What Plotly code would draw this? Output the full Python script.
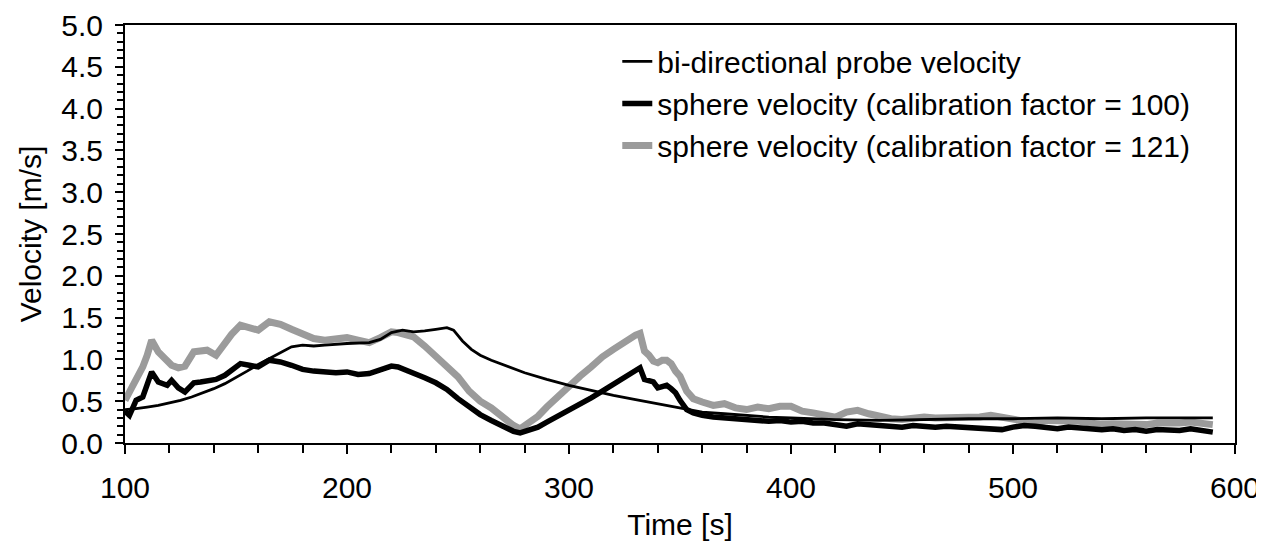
import plotly.graph_objects as go

# Time [s] and velocity [m/s]
probe_t = [100, 105, 110, 115, 120, 125, 130, 135, 140, 145, 150, 155, 160, 165, 170, 175, 180, 185,
           190, 200, 210, 215, 220, 225, 230, 235, 240, 245, 248, 252, 256, 260, 265, 270, 275, 280,
           290, 300, 310, 320, 330, 340, 350, 360, 370, 380, 390, 400, 420, 440, 460, 480, 500, 520,
           540, 560, 580, 590]
probe_v = [0.40, 0.41, 0.43, 0.45, 0.48, 0.51, 0.55, 0.60, 0.65, 0.71, 0.78, 0.86, 0.94, 1.01, 1.09,
           1.15, 1.17, 1.16, 1.17, 1.19, 1.20, 1.24, 1.32, 1.35, 1.33, 1.34, 1.36, 1.38, 1.35, 1.22,
           1.12, 1.05, 0.99, 0.94, 0.89, 0.84, 0.76, 0.69, 0.63, 0.57, 0.52, 0.47, 0.42, 0.37, 0.35,
           0.33, 0.31, 0.30, 0.28, 0.27, 0.28, 0.29, 0.29, 0.30, 0.29, 0.30, 0.30, 0.30]

sphere_t = [100, 102, 105, 108, 110, 112, 115, 119, 121, 124, 127, 131, 134, 137, 141, 145, 148, 152,
            156, 160, 165, 170, 175, 180, 185, 190, 195, 200, 205, 210, 215, 220, 223, 226, 230, 235,
            240, 245, 250, 255, 260, 265, 270, 275, 278, 282, 286, 290, 295, 300, 305, 310, 315, 320,
            325, 330, 332, 334, 336, 338, 340, 342, 344, 346, 348, 350, 353, 356, 360, 365, 370, 375,
            380, 385, 390, 395, 400, 405, 410, 415, 420, 425, 430, 435, 440, 445, 450, 455, 460, 465,
            470, 475, 480, 485, 490, 495, 500, 505, 510, 515, 520, 525, 530, 535, 540, 545, 550, 555,
            560, 565, 570, 575, 580, 585, 590]
sphere100_v = [0.38, 0.33, 0.51, 0.55, 0.70, 0.85, 0.73, 0.69, 0.75, 0.66, 0.61, 0.72, 0.73, 0.75,
               0.76, 0.81, 0.87, 0.95, 0.93, 0.91, 0.99, 0.97, 0.93, 0.88, 0.86, 0.85, 0.84, 0.85,
               0.82, 0.83, 0.87, 0.92, 0.91, 0.88, 0.84, 0.78, 0.72, 0.64, 0.53, 0.43, 0.34, 0.27,
               0.20, 0.14, 0.12, 0.15, 0.19, 0.25, 0.32, 0.39, 0.46, 0.54, 0.62, 0.70, 0.78, 0.86,
               0.90, 0.76, 0.74, 0.73, 0.66, 0.68, 0.69, 0.65, 0.60, 0.51, 0.40, 0.36, 0.33, 0.31,
               0.30, 0.28, 0.27, 0.27, 0.26, 0.27, 0.25, 0.26, 0.24, 0.24, 0.22, 0.20, 0.23, 0.22,
               0.21, 0.20, 0.19, 0.21, 0.20, 0.19, 0.20, 0.19, 0.19, 0.18, 0.16, 0.16, 0.19, 0.21,
               0.20, 0.18, 0.17, 0.19, 0.18, 0.16, 0.16, 0.17, 0.15, 0.16, 0.14, 0.16, 0.16, 0.15,
               0.17, 0.15, 0.13]
sphere121_v = [0.51, 0.60, 0.75, 0.91, 1.05, 1.23, 1.09, 0.99, 0.93, 0.90, 0.92, 1.09, 1.10, 1.11,
               1.05, 1.20, 1.30, 1.41, 1.37, 1.35, 1.45, 1.42, 1.36, 1.30, 1.25, 1.23, 1.24, 1.26,
               1.23, 1.20, 1.26, 1.33, 1.32, 1.30, 1.27, 1.16, 1.03, 0.91, 0.79, 0.62, 0.50, 0.42,
               0.31, 0.21, 0.17, 0.24, 0.32, 0.43, 0.56, 0.69, 0.80, 0.91, 1.03, 1.12, 1.21, 1.29,
               1.31, 1.10, 1.05, 0.98, 0.96, 0.99, 0.99, 0.95, 0.86, 0.80, 0.62, 0.53, 0.49, 0.45,
               0.47, 0.42, 0.40, 0.43, 0.41, 0.44, 0.44, 0.38, 0.36, 0.33, 0.31, 0.37, 0.39, 0.35,
               0.31, 0.29, 0.28, 0.30, 0.31, 0.30, 0.30, 0.29, 0.30, 0.31, 0.33, 0.31, 0.27, 0.25,
               0.24, 0.27, 0.27, 0.26, 0.26, 0.24, 0.22, 0.23, 0.22, 0.21, 0.22, 0.24, 0.23, 0.24,
               0.25, 0.24, 0.22]

names = ["bi-directional probe velocity",
         "sphere velocity (calibration factor = 100)",
         "sphere velocity (calibration factor = 121)"]

FONT = "Liberation Sans, Arial, Helvetica, sans-serif"
FS = 30

fig = go.Figure()
fig.add_trace(go.Scatter(x=sphere_t, y=sphere121_v, mode="lines", name=names[2],
                         line=dict(color="rgb(155,155,155)", width=7), legendrank=3,
                         legendgroup="c"))
fig.add_trace(go.Scatter(x=sphere_t, y=sphere100_v, mode="lines", name=names[1],
                         line=dict(color="black", width=5.5), legendrank=2, legendgroup="b"))
fig.add_trace(go.Scatter(x=probe_t, y=probe_v, mode="lines", name=names[0],
                         line=dict(color="black", width=2.8), legendrank=1, legendgroup="a"))

# the page body adds an 8px offset, so the figure is 8px smaller and margins shifted
fig.update_layout(
    width=1256, height=535,
    margin=dict(l=117, r=29, t=17, b=100, autoexpand=False),
    paper_bgcolor="white", plot_bgcolor="white",
    font=dict(family=FONT, size=FS, color="black"),
    showlegend=True,
    legend=dict(x=0.4435, y=0.975, xanchor="left", yanchor="top",
                bgcolor="rgba(0,0,0,0)", borderwidth=0,
                font=dict(size=FS), tracegroupgap=0, itemwidth=30),
)
fig.update_xaxes(range=[100, 600], dtick=100, tick0=100, automargin=False,
                 showline=True, linecolor="black", linewidth=2, mirror=True,
                 ticks="outside", ticklen=9, tickwidth=2, tickcolor="black",
                 minor=dict(dtick=20, ticks="outside", ticklen=8, tickwidth=1.5, tickcolor="black"),
                 showgrid=False, zeroline=False, ticklabelstandoff=8,
                 title=dict(text="Time [s]", standoff=11, font=dict(size=FS)))
fig.update_yaxes(range=[0, 5], dtick=0.5, tick0=0, tickformat=".1f", automargin=False,
                 showline=True, linecolor="black", linewidth=2, mirror=True,
                 ticks="outside", ticklen=8, tickwidth=2, tickcolor="black",
                 minor=dict(dtick=0.1, ticks="outside", ticklen=6, tickwidth=1.5, tickcolor="black"),
                 showgrid=False, zeroline=False, ticklabelstandoff=6,
                 title=dict(text="Velocity [m/s]", standoff=11, font=dict(size=FS)))

fig.write_html("out.html")
